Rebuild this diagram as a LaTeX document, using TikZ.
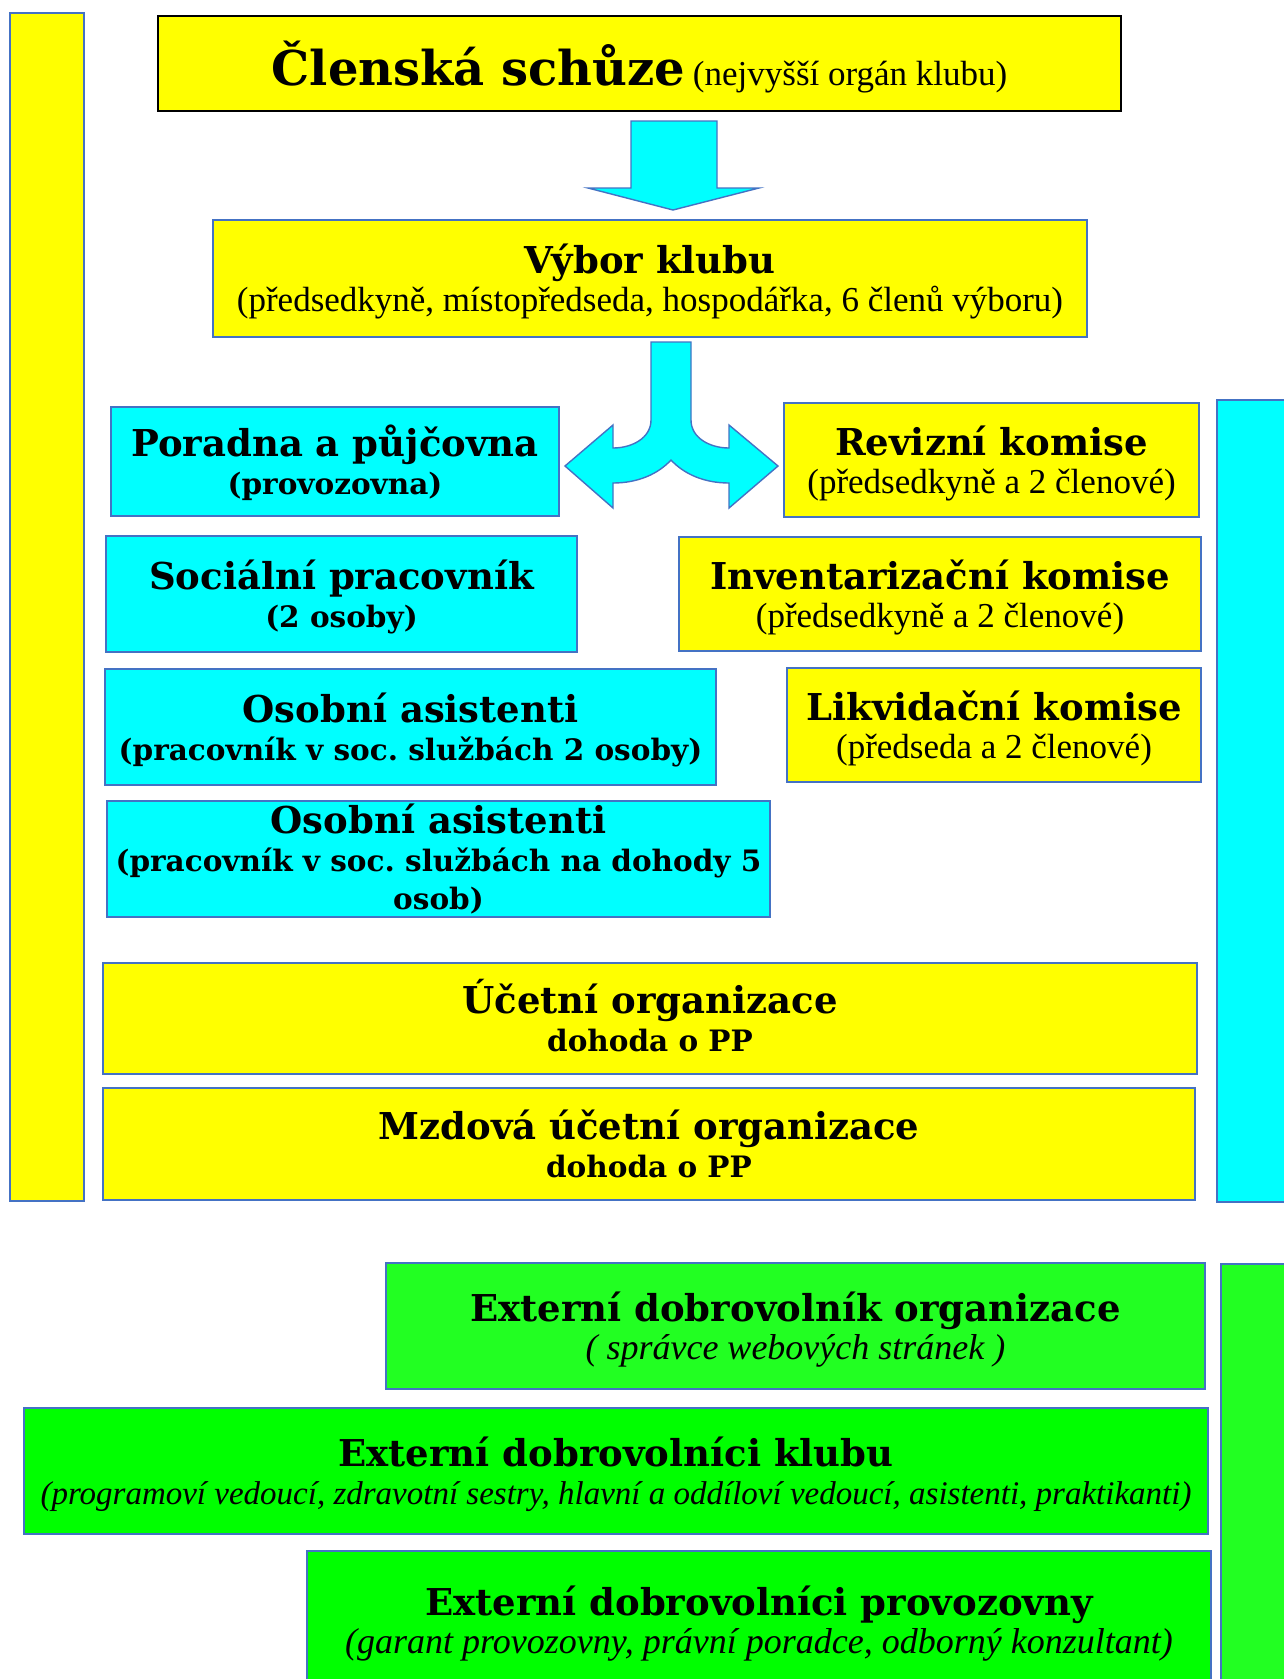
\documentclass[tikz,border=0pt]{standalone}
\usepackage{fontspec}
\setmainfont{Liberation Serif}
\newfontfamily\boldserif{DejaVu Serif}
\usepackage{tikz}
\frenchspacing

\definecolor{boxyellow}{RGB}{255,255,0}
\definecolor{boxcyan}{RGB}{0,255,255}
\definecolor{boxgreen}{RGB}{0,255,0}
\definecolor{barsgreen}{RGB}{34,255,34}
\definecolor{edgeblue}{RGB}{68,114,196}

\newcommand\headfont{\boldserif\bfseries\fontsize{37pt}{38pt}\selectfont}
\newcommand\headtxt{\headfont\rule{0pt}{37pt}}
\newcommand\toptxt{\boldserif\bfseries\fontsize{48pt}{50pt}\selectfont\rule{0pt}{52pt}}
\newcommand\lowstrut{\rule[-9pt]{0pt}{9pt}}
\newcommand\subtxt{\fontsize{35pt}{38pt}\selectfont\lowstrut}
\newcommand\boldsubfont{\boldserif\bfseries\fontsize{29.5pt}{38pt}\selectfont}
\newcommand\boldsubtxt{\boldsubfont\lowstrut}
\newcommand\itsubtxt{\itshape\fontsize{36pt}{38pt}\selectfont\lowstrut}

\begin{document}
\begin{tikzpicture}[x=1pt,y=-1pt,
  box/.style={draw=edgeblue,line width=1.6pt,inner sep=0pt,align=center,font=\fontsize{30pt}{38pt}\selectfont},
  ybox/.style={box,fill=boxyellow},
  cbox/.style={box,fill=boxcyan},
  gbox/.style={box,fill=boxgreen},
  lgbox/.style={box,fill=barsgreen},
  blockarrow/.style={fill=boxcyan,draw=edgeblue,line width=1.4pt,line join=miter}]
\path[use as bounding box,fill=white] (0,0) rectangle (1283,1679);

% side bars
\node[ybox,minimum width=74pt,minimum height=1188pt] (leftbar) at (47,607) {};
\node[cbox,minimum width=83pt,minimum height=802pt] (rightbar) at (1258.5,801) {};
\node[lgbox,minimum width=79pt,minimum height=436pt] (greenbar) at (1260.5,1482) {};

% top of the club
\node[ybox,draw=black,line width=2.4pt,minimum width=963pt,minimum height=95pt] (schuze) at (639.5,63.5)
  {{\toptxt Členská schůze} {\fontsize{35pt}{38pt}\selectfont (nejvyšší orgán klubu)}};
\node[ybox,minimum width=874pt,minimum height=117pt] (vybor) at (650,278.5)
  {{\headtxt Výbor klubu}\\{\subtxt (předsedkyně, místopředseda, hospodářka, 6 členů výboru)}};

% block arrows
\path[blockarrow] (631,121) -- (717,121) -- (717,188) -- (759,188) -- (673,210) -- (588,188) -- (631,188) -- cycle;
\path[blockarrow] (651,342) -- (651,420) .. controls (651,438) and (632,448) .. (613,448) -- (613,425) -- (565,466)
  -- (613,508) -- (613,483) .. controls (638,483) and (658,474) .. (671,460)
  .. controls (684,474) and (704,483) .. (729,483) -- (729,508) -- (778,466) -- (729,425) -- (729,448)
  .. controls (710,448) and (691,438) .. (691,420) -- (691,342) -- cycle;

% staff (left)
\node[cbox,minimum width=448pt,minimum height=109pt] (poradna) at (335,461.5)
  {{\headtxt Poradna a půjčovna}\\{\boldsubtxt (provozovna)}};
\node[cbox,minimum width=471pt,minimum height=116pt] (socialni) at (341.5,594)
  {{\headtxt Sociální pracovník}\\{\boldsubtxt (2 osoby)}};
\node[cbox,minimum width=611pt,minimum height=116pt] (asist1) at (410.5,727)
  {{\headtxt Osobní asistenti}\\{\boldsubtxt (pracovník v soc. službách 2 osoby)}};
\node[cbox,minimum width=663pt,minimum height=116pt] (asist2) at (438.5,859)
  {{\headfont Osobní asistenti}\\{\boldsubfont (pracovník v soc. službách na dohody 5}\\{\boldsubfont osob)}};

% commissions (right)
\node[ybox,minimum width=415pt,minimum height=114pt] (revizni) at (991.5,460)
  {{\headtxt Revizní komise}\\{\subtxt (předsedkyně a 2 členové)}};
\node[ybox,minimum width=522pt,minimum height=114pt] (invent) at (940,594)
  {{\headtxt Inventarizační komise}\\{\subtxt (předsedkyně a 2 členové)}};
\node[ybox,minimum width=414pt,minimum height=114pt] (likvid) at (994,725)
  {{\headtxt Likvidační komise}\\{\subtxt (předseda a 2 členové)}};

% accounting
\node[ybox,minimum width=1094pt,minimum height=111pt] (ucetni) at (650,1018.5)
  {{\headtxt Účetní organizace}\\{\boldsubtxt dohoda o PP}};
\node[ybox,minimum width=1092pt,minimum height=112pt] (mzdova) at (649,1144)
  {{\headtxt Mzdová účetní organizace}\\{\boldsubtxt dohoda o PP}};

% volunteers
\node[lgbox,minimum width=819pt,minimum height=126pt] (extorg) at (795.5,1326)
  {{\headtxt Externí dobrovolník organizace}\\{\itsubtxt ( správce webových stránek )}};
\node[gbox,minimum width=1184pt,minimum height=126pt] (extklub) at (616,1471)
  {{\headtxt Externí dobrovolníci klubu}\\{\itsubtxt\fontsize{33pt}{38pt}\selectfont (programoví vedoucí, zdravotní sestry, hlavní a oddíloví vedoucí, asistenti, praktikanti)}};
\node[gbox,minimum width=904pt,minimum height=139pt] (extprov) at (759,1620.5)
  {{\headtxt Externí dobrovolníci provozovny}\\{\itsubtxt (garant provozovny, právní poradce, odborný konzultant)}};
\end{tikzpicture}
\end{document}
